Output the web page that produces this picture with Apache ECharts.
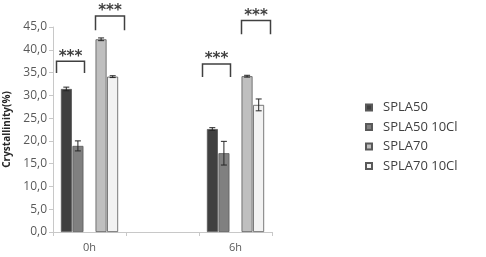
<!DOCTYPE html>
<html>
<head>
<meta charset="utf-8">
<script src="https://cdn.jsdelivr.net/npm/echarts@6/dist/echarts.min.js"></script>
<style>
html,body{margin:0;padding:0;background:#fff;}
#chart{width:486px;height:257px;}
</style>
</head>
<body>
<div id="chart"></div>
<script>
// data
const categories = ['0h', '', '6h'];
const seriesNames = ['SPLA50', 'SPLA50 10Cl', 'SPLA70', 'SPLA70 10Cl'];
const spla50 = [31.4, '-', 22.6];
const spla50Err = [0.4, 0, 0.3];
const spla50Cl = [18.9, '-', 17.3];
const spla50ClErr = [1.1, 0, 2.6];
const spla70 = [42.3, '-', 34.2];
const spla70Err = [0.3, 0, 0.2];
const spla70Cl = [34.1, '-', 27.9];
const spla70ClErr = [0.2, 0, 1.3];
const yTicks = [0, 5, 10, 15, 20, 25, 30, 35, 40, 45];

// significance brackets: category, side, top value, leg bottom value
const brackets = [
    {cat: 0, side: 'left', top: 37.5, bottom: 34.9},
    {cat: 0, side: 'right', top: 47.4, bottom: 44.3},
    {cat: 2, side: 'left', top: 36.9, bottom: 34.0},
    {cat: 2, side: 'right', top: 46.4, bottom: 43.4}
];

const colors = ['#404040', '#808080', '#bfbfbf', '#f2f2f2'];
const values = [spla50, spla50Cl, spla70, spla70Cl];
const errors = [spla50Err, spla50ClErr, spla70Err, spla70ClErr];
const barW = 11;
const pitch = 11.6;
// slot 2 is the empty spacer between the two pairs
const slotOf = [0, 1, 3, 4];

var myChart = echarts.init(document.getElementById('chart'));

let series = [];
seriesNames.forEach((name, i) => {
    series.push({
        name: name,
        type: 'bar',
        barWidth: barW,
        barGap: '5%',
        barCategoryGap: '20%',
        data: values[i],
        itemStyle: {color: colors[i], borderColor: '#595959', borderWidth: 0.8}
    });
    if (i == 1) {
        series.push({name: 'spacer', type: 'bar', barWidth: barW, barGap: '5%', data: [0, 0, 0], itemStyle: {color: 'transparent'}, silent: true});
    }
});
seriesNames.forEach((name, i) => {
    let errData = [];
    values[i].forEach((v, j) => {
        if (v !== '-') errData.push([j, v, errors[i][j]]);
    });
    series.push({
        type: 'custom',
        silent: true,
        z: 5,
        data: errData,
        renderItem: (params, api) => {
            let c = api.value(0), v = api.value(1), e = api.value(2);
            let hi = api.coord([c, v + e]);
            let lo = api.coord([c, v - e]);
            let x = hi[0] + (slotOf[i] - 2) * pitch;
            let st = {stroke: '#262626', lineWidth: 1};
            return {
                type: 'group',
                children: [
                    {type: 'line', shape: {x1: x, y1: hi[1], x2: x, y2: lo[1]}, style: st},
                    {type: 'line', shape: {x1: x - 3, y1: hi[1], x2: x + 3, y2: hi[1]}, style: st},
                    {type: 'line', shape: {x1: x - 3, y1: lo[1], x2: x + 3, y2: lo[1]}, style: st}
                ]
            };
        }
    });
});

let option = {
    backgroundColor: '#fff',
    animation: false,
    textStyle: {fontFamily: 'Open Sans'},
    grid: {left: 53, right: 214, top: 27, bottom: 25},
    legend: {
        orient: 'vertical',
        left: 360,
        top: 96,
        itemWidth: 6,
        itemHeight: 6,
        itemGap: 6.5,
        icon: 'rect',
        data: seriesNames,
        textStyle: {fontSize: 13, color: '#404040', fontFamily: 'Open Sans', padding: [8, 0, 0, 6]}
    },
    xAxis: {
        type: 'category',
        data: categories,
        axisLine: {lineStyle: {color: '#c8c8c8', width: 1}},
        axisTick: {show: true, interval: 0, length: 4, lineStyle: {color: '#c8c8c8'}},
        axisLabel: {color: '#595959', fontSize: 11, margin: 10}
    },
    yAxis: {
        type: 'value',
        min: 0,
        max: 45,
        interval: 5,
        name: 'Crystallinity(%)',
        nameLocation: 'middle',
        nameGap: 41,
        nameTextStyle: {fontSize: 10, fontWeight: 'bold', color: '#262626', fontFamily: 'Open Sans'},
        axisLine: {show: true, lineStyle: {color: '#c8c8c8'}},
        axisTick: {show: true, length: 4, lineStyle: {color: '#c8c8c8'}},
        splitLine: {show: false},
        axisLabel: {
            color: '#595959',
            fontSize: 12,
            margin: 6,
            formatter: (v) => yTicks.indexOf(v) >= 0 ? v.toFixed(1).replace('.', ',') : ''
        }
    },
    series: series
};
myChart.setOption(option);

// draw the significance brackets from axis coordinates
function drawBrackets() {
    let els = [];
    brackets.forEach((b) => {
        let center = myChart.convertToPixel({xAxisIndex: 0}, b.cat);
        let yTop = myChart.convertToPixel({yAxisIndex: 0}, b.top);
        let yBot = myChart.convertToPixel({yAxisIndex: 0}, b.bottom);
        let x1, x2;
        if (b.side == 'left') {
            x1 = center - 33; x2 = center - 5;
        } else {
            x1 = center + 6; x2 = center + 35;
        }
        els.push({
            type: 'polyline',
            shape: {points: [[x1, yBot], [x1, yTop], [x2, yTop], [x2, yBot]]},
            style: {stroke: '#404040', lineWidth: 1.5, fill: null},
            z: 10
        });
        els.push({
            type: 'text',
            x: (x1 + x2) / 2,
            y: yTop - 4.5,
            style: {text: '***', fill: '#404040', font: 'bold 15px DejaVu Sans', align: 'center', verticalAlign: 'middle'},
            z: 10
        });
    });
    myChart.setOption({graphic: els});
}
drawBrackets();
</script>
</body>
</html>
